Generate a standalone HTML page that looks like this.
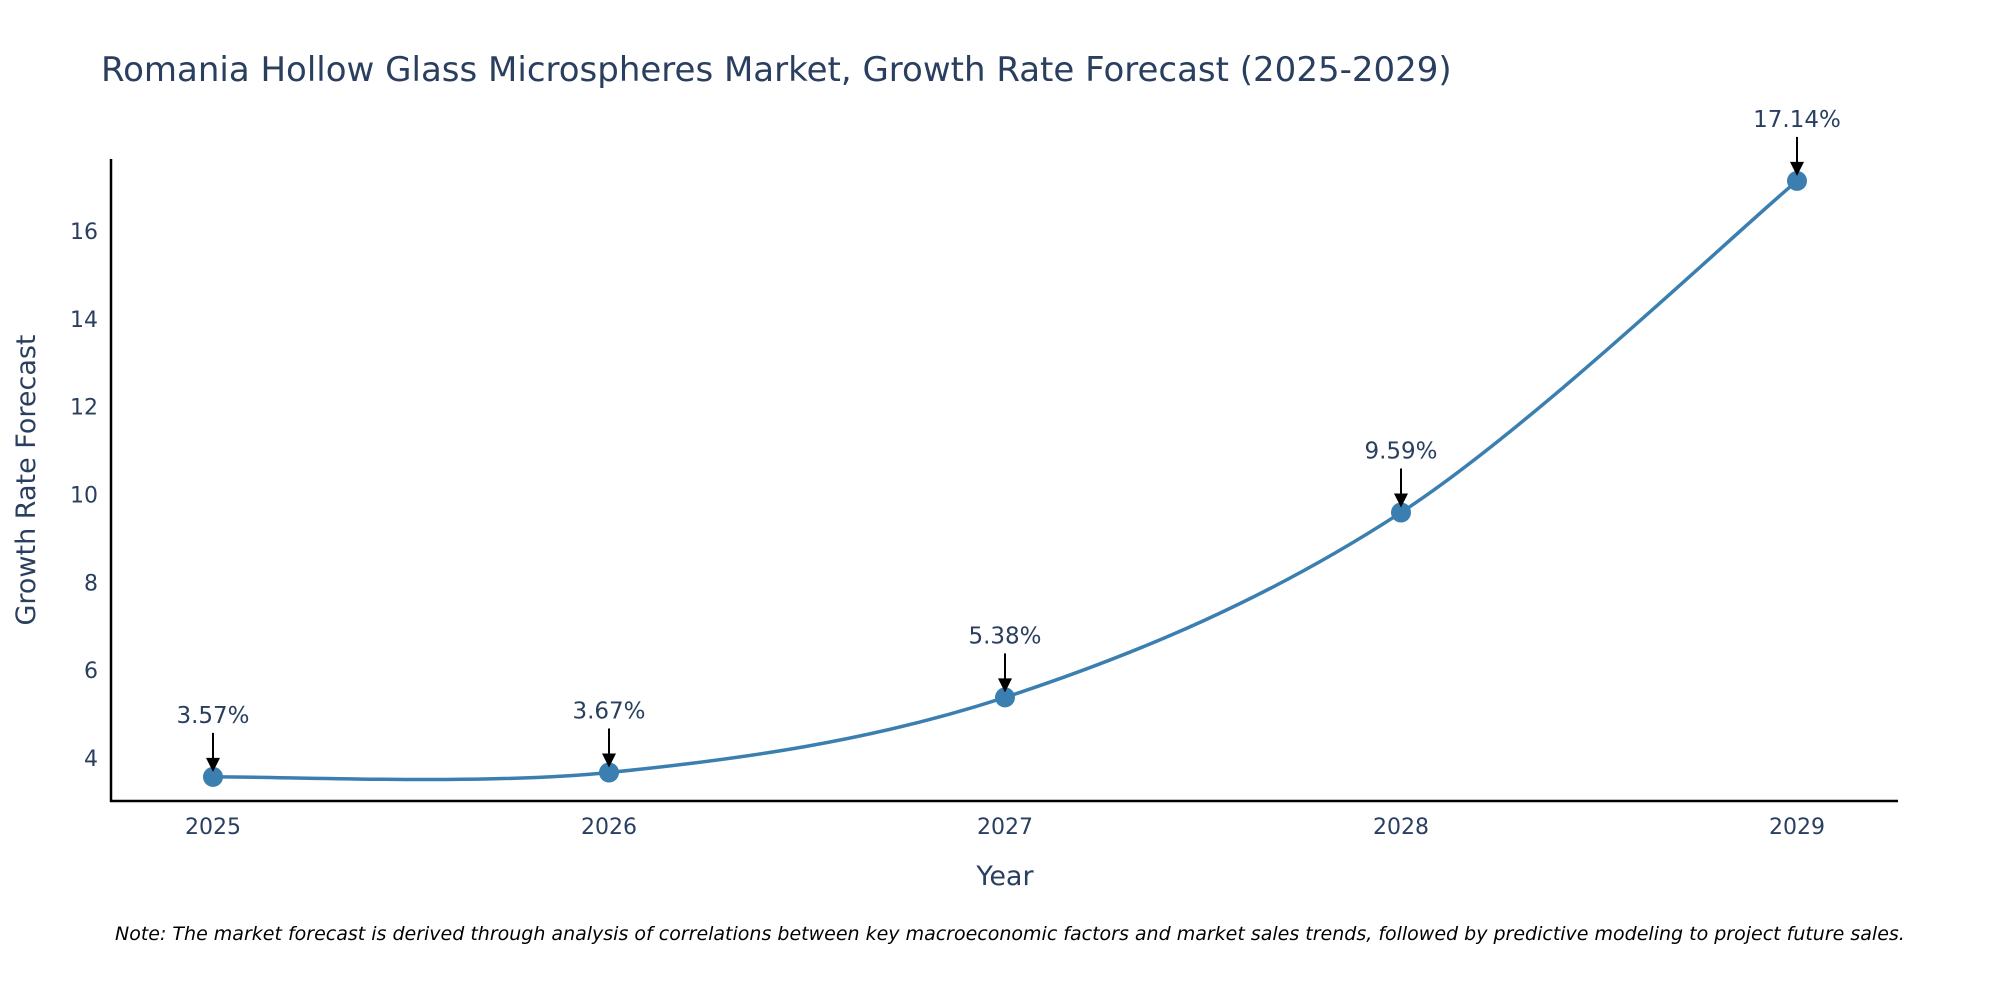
<!DOCTYPE html>
<html><head><meta charset="utf-8"><style>
html,body{margin:0;padding:0;background:#fff;}
svg text{font-family:"DejaVu Sans","Liberation Sans",sans-serif;}
</style></head><body>
<svg id="chart" width="2000" height="1000" xmlns="http://www.w3.org/2000/svg">
<text x="101" y="81" font-size="34" fill="#2a3f5f">Romania Hollow Glass Microspheres Market, Growth Rate Forecast (2025-2029)</text>
<g id="yticks"></g><g id="xticks"></g>
<line x1="111" y1="159" x2="111" y2="802" stroke="#000" stroke-width="2.5"/>
<line x1="110" y1="801" x2="1898" y2="801" stroke="#000" stroke-width="2.5"/>
<path id="line" fill="none" stroke="#3b7fb1" stroke-width="3.5"/>
<g id="points"></g><g id="annots"></g>
<text x="1005" y="885" font-size="27" fill="#2a3f5f" text-anchor="middle">Year</text>
<text transform="translate(35,480) rotate(-90)" font-size="27" fill="#2a3f5f" text-anchor="middle">Growth Rate Forecast</text>
<text x="115" y="940" font-size="19" font-style="italic" fill="#000">Note: The market forecast is derived through analysis of correlations between key macroeconomic factors and market sales trends, followed by predictive modeling to project future sales.</text>
</svg>
<script>
const years=[2025,2026,2027,2028,2029];
const values=[3.57,3.67,5.38,9.59,17.14];
const labels=["3.57%","3.67%","5.38%","9.59%","17.14%"];
const yTicks=[4,6,8,10,12,14,16];
const NS="http://www.w3.org/2000/svg";
function xs(v){return 213+(v-2025)*(1797-213)/4;}
function ys(v){return 758-(v-4)*(758-231)/12;}
function mk(t,a,p){const e=document.createElementNS(NS,t);for(const k in a)e.setAttribute(k,a[k]);p.appendChild(e);return e;}
const yt=document.getElementById('yticks');
yTicks.forEach(t=>{const e=mk('text',{x:98,y:ys(t)+8,'font-size':22,fill:'#2a3f5f','text-anchor':'end'},yt);e.textContent=t;

});
const xt=document.getElementById('xticks');
years.forEach(y=>{const e=mk('text',{x:xs(y),y:834,'font-size':22,fill:'#2a3f5f','text-anchor':'middle'},xt);e.textContent=y;

});
const P=years.map((y,i)=>[xs(y),ys(values[i])]);
let d=`M${P[0][0]},${P[0][1]}`;
for(let i=0;i<P.length-1;i++){const p0=P[Math.max(0,i-1)],p1=P[i],p2=P[i+1],p3=P[Math.min(P.length-1,i+2)];
const c1=[p1[0]+(p2[0]-p0[0])/6,p1[1]+(p2[1]-p0[1])/6],c2=[p2[0]-(p3[0]-p1[0])/6,p2[1]-(p3[1]-p1[1])/6];
d+=` C${c1[0]},${c1[1]} ${c2[0]},${c2[1]} ${p2[0]},${p2[1]}`;}
document.getElementById('line').setAttribute('d',d);
const pg=document.getElementById('points'),ag=document.getElementById('annots');
P.forEach((p,i)=>{const c=mk('circle',{cx:p[0],cy:p[1],r:10,fill:'#3b7fb1'},pg);


const l=mk('line',{x1:p[0],y1:p[1]-44,x2:p[0],y2:p[1]-16,stroke:'#000','stroke-width':2},ag);


const h=mk('polygon',{points:`${p[0]-7},${p[1]-19} ${p[0]+7},${p[1]-19} ${p[0]},${p[1]-5}`,fill:'#000'},ag);


const t=mk('text',{x:p[0],y:p[1]-54,'font-size':23,fill:'#2a3f5f','text-anchor':'middle'},ag);t.textContent=labels[i];

});
</script>
</body></html>
